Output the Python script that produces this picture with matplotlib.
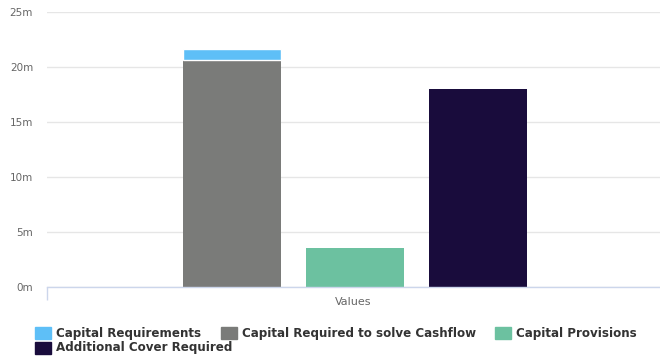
import matplotlib.pyplot as plt
from matplotlib.patches import Rectangle

# data (in millions)
category = "Values"
series_names = ["Capital Requirements", "Capital Required to solve Cashflow",
                "Capital Provisions", "Additional Cover Required"]
capital_requirements = 1.0
capital_required_cashflow = 20.6
capital_provisions = 3.55
additional_cover = 18.0
colors = ["#5ebff7", "#7a7b79", "#6cc1a0", "#190c3c"]

W, H, dpi = 660, 360, 100
fig = plt.figure(figsize=(W / dpi, H / dpi), dpi=dpi)
ax = fig.add_axes([47 / W, (H - 287) / H, (660 - 47) / W, (287 - 12) / H])

slot = 0.2007
bw = 0.16
x0 = -0.198
# stack 1: gray + blue on top
ax.bar(x0, capital_required_cashflow, width=bw, color=colors[1], zorder=2)
ax.bar(x0, capital_requirements, width=bw, bottom=capital_required_cashflow,
       color=colors[0], edgecolor="white", linewidth=1, zorder=2)
ax.bar(x0 + slot, capital_provisions, width=bw, color=colors[2], zorder=2)
ax.bar(x0 + 2 * slot, additional_cover, width=bw, color=colors[3], zorder=2)

ax.set_xlim(-0.5, 0.5)
ax.set_ylim(0, 25)
ax.set_yticks(range(0, 26, 5))
ax.set_yticklabels([f"{v}m" for v in range(0, 26, 5)])
ax.yaxis.grid(True, color="#e6e6e6", linewidth=1, zorder=0)
ax.set_axisbelow(True)

for s in ["top", "right", "left"]:
    ax.spines[s].set_visible(False)
ax.spines["bottom"].set_color("#ccd6eb")
ax.spines["bottom"].set_linewidth(1)

ax.tick_params(axis="y", length=0, pad=10, labelsize=7.5, labelcolor="#666666")
ax.set_xticks([0])
ax.set_xticklabels([category])
ax.tick_params(axis="x", length=0, pad=7, labelsize=8, labelcolor="#666666")
ax.set_xticks([-0.5], minor=True)
ax.tick_params(axis="x", which="minor", length=9, color="#ccd6eb", width=1)

# legend drawn manually to follow the flowing layout
items = [(35, 333), (221, 333), (495, 333), (35, 348)]
for (px, py), name, c in zip(items, series_names, colors):
    fig.patches.append(Rectangle((px / W, (H - py - 6) / H), 16 / W, 12 / H,
                                 transform=fig.transFigure, color=c))
    fig.text((px + 21) / W, (H - py) / H, name, fontsize=8.6, fontweight="bold",
             color="#333333", va="center", ha="left")

fig.savefig("out.png", dpi=dpi)
